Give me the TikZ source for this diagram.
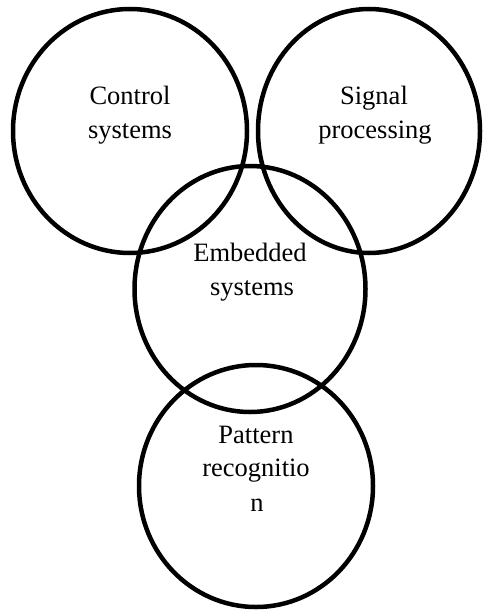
\documentclass[tikz,border=0pt]{standalone}
\usepackage{fontspec}
\setmainfont{Liberation Serif}
\usetikzlibrary{shapes.geometric}
\begin{document}
\begin{tikzpicture}[x=1pt,y=-1pt,
  ring/.style={draw=black,line width=4.5pt,ellipse,inner sep=0pt},
  lbl/.style={anchor=base,inner sep=0pt,font=\fontsize{26.5}{34}\selectfont}]
\useasboundingbox (0,0) rectangle (482,610);
\node[ring,minimum width=234pt,minimum height=244pt] (ctrl) at (130,131) {};
\node[ring,minimum width=222pt,minimum height=244pt] (sig) at (369,131) {};
\node[ring,minimum width=231pt,minimum height=246pt] (emb) at (250,289) {};
\node[ring,minimum width=234pt,minimum height=242pt] (pat) at (256,486) {};
\node[lbl] (c1) at (130,104) {Control};
\node[lbl] (c2) at (130,138) {systems};
\node[lbl] (s1) at (374,104) {Signal};
\node[lbl] (s2) at (375,138) {processing};
\node[lbl] (e1) at (250,261) {Embedded};
\node[lbl] (e2) at (252,295) {systems};
\node[lbl] (p1) at (256,443) {Pattern};
\node[lbl] (p2) at (256,476) {recognitio};
\node[lbl] (p3) at (257,511) {n};
\end{tikzpicture}
\end{document}
